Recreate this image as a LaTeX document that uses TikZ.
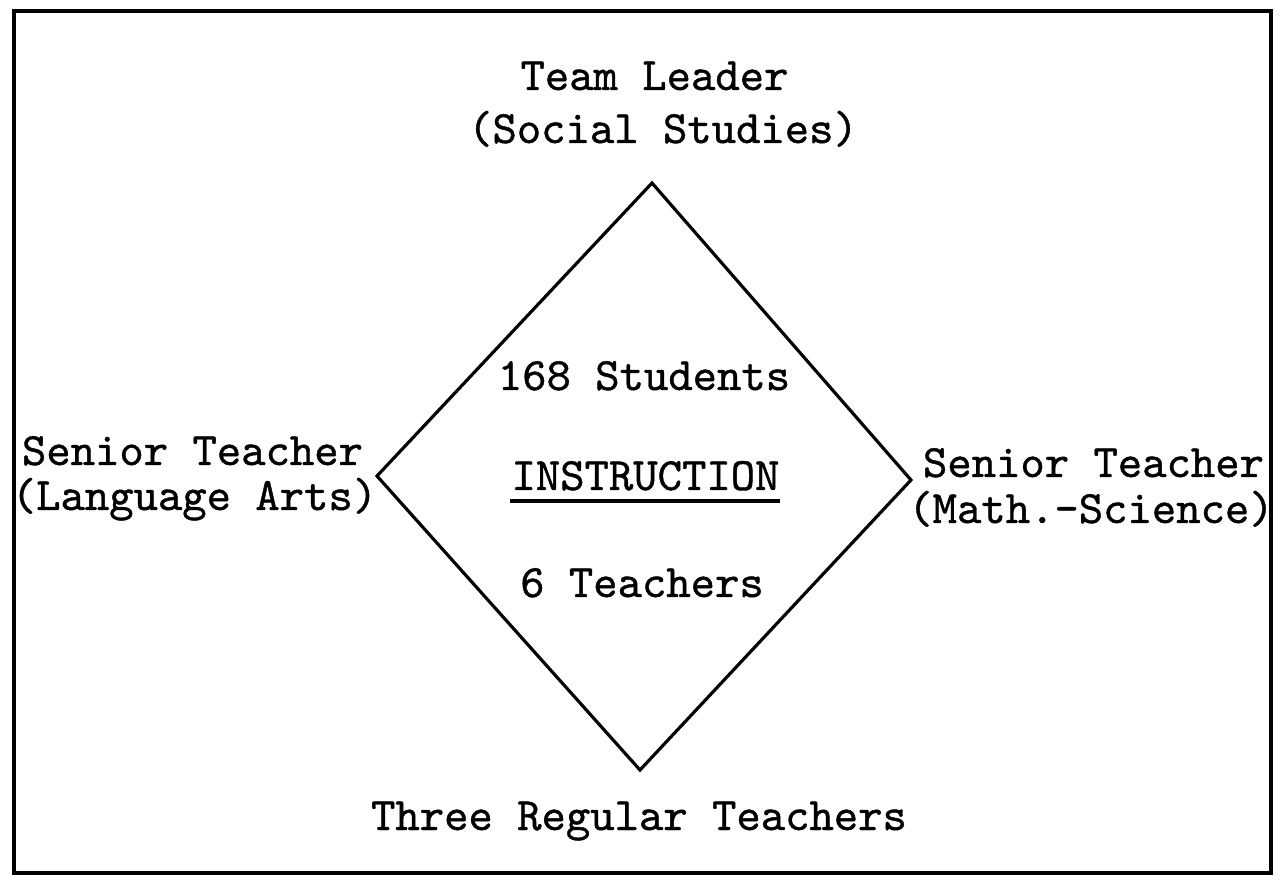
\documentclass[tikz,border=0pt]{standalone}
\usepackage{fontspec}
\setmonofont{lmmono10-regular}[Extension=.otf, FakeBold=0.9]

\begin{document}
\begin{tikzpicture}[font=\ttfamily\fontsize{13.2}{15}\selectfont]

        % Stili
        \tikzset{
            every path/.style={line width=0.9pt},
            label/.style={anchor=base, inner sep=0pt}
        }

        \useasboundingbox (0,0) rectangle (12.81, 8.80);

        % Cornice esterna
        \draw[line width=1.1pt] (0.14, 0.07) rectangle (12.71, 8.69);

        % Vertici del rombo
        \coordinate (top) at (6.52, 6.97);
        \coordinate (left) at (3.77, 4.04);
        \coordinate (bottom) at (6.40, 1.10);
        \coordinate (right) at (9.11, 4.00);
        \draw (top) -- (right) -- (bottom) -- (left) -- cycle;

        % Ruoli in alto e in basso
        \node[label] (leader) at (6.545, 7.90) {Team Leader};
        \node[label] (social) at (6.63, 7.37) {(Social Studies)};
        \node[label] (regular) at (6.39, 0.50) {Three Regular Teachers};

        % Ruoli a sinistra
        \node[label] (senl) at (1.925, 4.15) {Senior Teacher};
        \node[label] (lang) at (1.945, 3.70) {(Language Arts)};

        % Ruoli a destra
        \node[label] (senr) at (10.935, 4.03) {Senior Teacher};
        \node[label] (math) at (10.91, 3.57) {(Math.-Science)};

        % Testo dentro il rombo
        \node[label] (students) at (6.44, 4.90) {168 Students};
        \node[label] (instr) at (6.455, 3.90) {INSTRUCTION};
        \node[label] (teachers) at (6.42, 2.83) {6 Teachers};

        % Sottolineatura
        \draw[line width=1.3pt] (5.10, 3.79) -- (7.80, 3.79);

\end{tikzpicture}
\end{document}
